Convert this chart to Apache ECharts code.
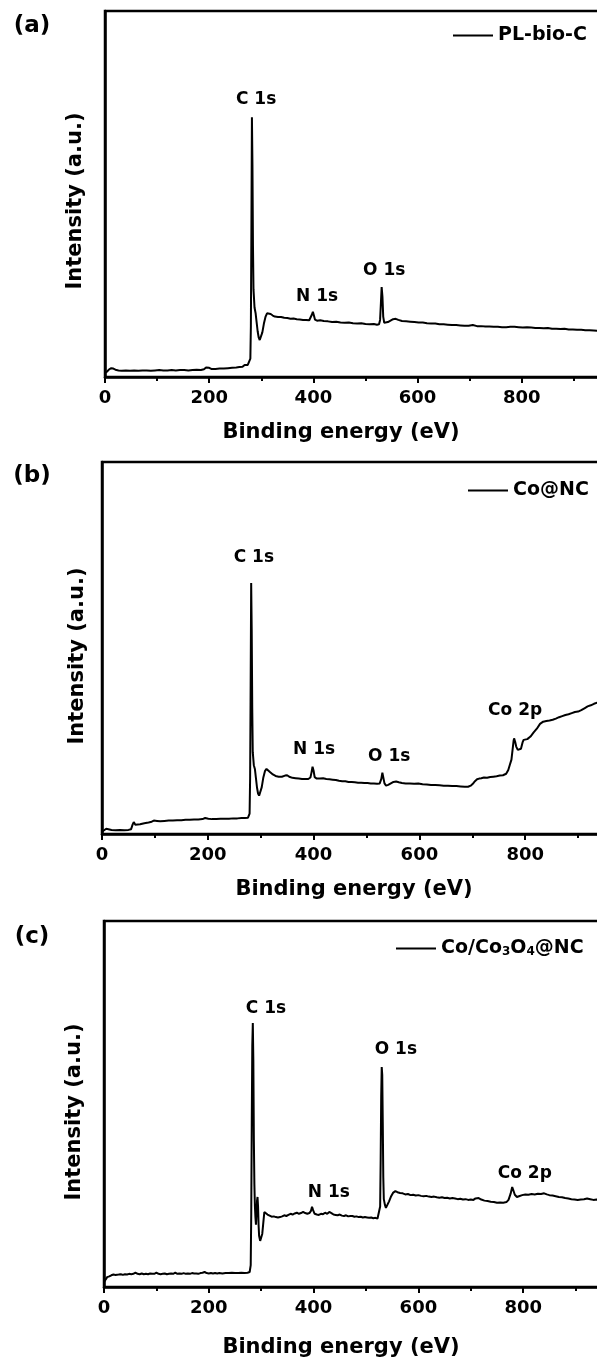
<!DOCTYPE html>
<html>
<head>
<meta charset="utf-8">
<style>
html,body{margin:0;padding:0;background:#fff;}
#chart{width:597px;height:1367px;}
</style>
<script src="https://cdn.jsdelivr.net/npm/echarts@6/dist/echarts.min.js"></script>
</head>
<body>
<div id="chart"></div>
<script>
// ---------- data ----------
const xTicks = [0, 200, 400, 600, 800, 1000];
const panelLabels = ['(a)', '(b)', '(c)'];
const seriesNames = ['PL-bio-C', 'Co@NC', 'Co/Co3O4@NC'];
const xTitle = 'Binding energy (eV)';
const yTitle = 'Intensity (a.u.)';

// [binding energy (eV), intensity (a.u., 0-100 scale)]
const specA = [[0,1.2],[4,1.5],[8,2.1],[12,2.4],[16,2.3],[20,2.0],[26,1.8],[32,1.7],[40,1.8],[48,1.7],[56,1.8],[64,1.7],[72,1.8],[80,1.8],[88,1.7],[96,1.8],[104,1.9],[112,1.8],[120,1.8],[128,1.9],[136,1.8],[144,1.9],[152,1.9],[160,1.8],[168,1.9],[176,2.0],[184,1.9],[190,2.1],[194,2.6],[197,3.0],[200,2.5],[204,2.2],[212,2.2],[220,2.3],[228,2.3],[236,2.4],[244,2.5],[252,2.6],[258,2.7],[264,2.8],[268,3.3],[271,3.8],[274,3.3],[277,3.4],[279,5],[280,14],[281,40],[282,71],[283,58],[284,36],[285,24],[287,19],[289,17.5],[291,15],[293,12.5],[295,10.8],[297,10.1],[299,10.4],[302,12.2],[305,14.6],[308,16.4],[311,17.4],[314,17.6],[318,17.2],[322,16.8],[326,16.5],[332,16.4],[338,16.4],[344,16.2],[350,16.1],[356,15.9],[362,16.0],[368,15.8],[374,15.7],[380,15.6],[386,15.6],[392,15.5],[395,15.8],[397,17.0],[399,17.8],[401,16.8],[403,15.7],[407,15.4],[413,15.5],[420,15.3],[428,15.2],[436,15.0],[444,15.1],[452,14.9],[460,14.8],[468,14.9],[476,14.7],[484,14.6],[492,14.7],[500,14.5],[508,14.4],[516,14.5],[522,14.3],[526,14.4],[528,15.6],[529.5,20],[531,24.6],[532.5,22],[534,16.5],[536,14.8],[539,14.6],[543,15.0],[548,15.4],[553,15.8],[558,15.9],[563,15.6],[570,15.3],[578,15.2],[586,15.1],[594,15.0],[602,14.9],[610,14.9],[618,14.7],[626,14.6],[634,14.6],[642,14.4],[650,14.4],[658,14.3],[666,14.2],[674,14.2],[682,14.1],[690,14.0],[698,14.0],[706,14.2],[714,13.9],[722,13.9],[730,13.8],[738,13.8],[746,13.7],[754,13.7],[762,13.6],[770,13.6],[778,13.7],[786,13.7],[794,13.6],[802,13.5],[810,13.6],[818,13.5],[826,13.4],[834,13.4],[842,13.3],[850,13.4],[858,13.2],[866,13.2],[874,13.1],[882,13.2],[890,13.0],[898,13.0],[906,12.9],[914,12.9],[922,12.8],[930,12.8],[938,12.7],[946,12.6],[954,12.6]];

const specB = [[0,0.6],[4,1.0],[8,1.4],[12,1.3],[18,1.1],[26,1.0],[34,1.1],[42,1.0],[50,1.1],[55,1.3],[58,2.6],[60,3.2],[63,2.5],[66,2.4],[72,2.6],[80,2.9],[88,3.1],[94,3.3],[98,3.6],[101,4.0],[104,3.5],[110,3.4],[118,3.5],[126,3.6],[134,3.6],[142,3.7],[150,3.7],[158,3.8],[166,3.8],[174,3.9],[182,3.9],[190,4.0],[195,4.3],[198,4.6],[201,4.1],[208,4.0],[216,4.0],[224,4.1],[232,4.1],[240,4.1],[248,4.2],[256,4.2],[264,4.3],[270,4.3],[276,4.4],[279,5.5],[280,15],[281,40],[282,67.5],[283,55],[284,34],[285,22],[287,18.5],[289,17.5],[291,15.0],[293,12.5],[295,10.9],[297,10.3],[299,10.6],[302,12.6],[305,15.2],[308,16.9],[311,17.5],[314,17.2],[318,16.6],[323,16.0],[328,15.6],[334,15.4],[340,15.4],[346,15.7],[350,15.8],[354,15.4],[360,15.1],[366,15.0],[372,14.9],[378,14.8],[384,14.8],[390,14.8],[394,15.2],[396,16.5],[398,18.1],[400,17.0],[402,15.3],[406,14.9],[412,14.9],[418,15.0],[424,14.8],[430,14.7],[436,14.6],[442,14.5],[448,14.3],[454,14.2],[460,14.2],[466,14.0],[472,14.0],[478,13.9],[484,13.8],[490,13.8],[496,13.7],[502,13.7],[508,13.6],[514,13.6],[520,13.5],[525,13.6],[528,14.8],[530,16.5],[532,16.0],[534,13.6],[537,13.0],[541,13.2],[546,13.6],[551,14.0],[556,14.1],[561,13.9],[567,13.7],[574,13.6],[582,13.6],[590,13.5],[598,13.6],[606,13.4],[614,13.3],[622,13.2],[630,13.2],[638,13.1],[646,13.0],[654,13.0],[662,12.9],[670,12.9],[678,12.8],[686,12.7],[692,12.7],[697,13.0],[701,13.5],[705,14.2],[709,14.7],[713,14.9],[717,15.0],[722,15.2],[728,15.1],[734,15.3],[740,15.4],[746,15.5],[752,15.7],[758,15.8],[764,16.2],[768,17.2],[771,18.6],[774,20.0],[776,22.5],[778,25.0],[779,25.7],[781,24.8],[783,23.5],[786,22.6],[789,22.1],[792,22.9],[795,24.6],[797,25.3],[800,25.0],[804,25.5],[810,26.2],[816,27.3],[822,28.3],[828,29.6],[834,30.2],[840,30.4],[846,30.5],[852,30.7],[858,31.0],[864,31.4],[870,31.7],[876,32.0],[882,32.2],[888,32.5],[894,32.8],[900,32.9],[906,33.3],[912,33.8],[918,34.3],[924,34.6],[930,35.0],[936,35.3],[942,35.5],[948,35.6]];

const specC = [[0,1.4],[3,2.0],[6,2.7],[10,2.9],[14,3.2],[18,3.4],[22,3.3],[25,3.8],[28,3.4],[32,3.5],[36,3.3],[40,3.5],[44,3.4],[48,3.6],[52,3.5],[56,3.6],[60,3.9],[64,3.6],[68,3.5],[72,3.7],[76,3.5],[80,3.6],[84,3.5],[88,3.7],[92,3.6],[96,3.6],[100,3.9],[104,3.6],[108,3.5],[112,3.6],[116,3.7],[120,3.5],[124,3.6],[128,3.7],[132,3.6],[136,3.9],[140,3.6],[144,3.7],[148,3.6],[152,3.8],[156,3.6],[160,3.7],[164,3.6],[168,3.8],[172,3.7],[176,3.7],[180,3.6],[184,3.8],[188,3.9],[192,4.1],[196,3.8],[200,3.7],[204,3.8],[208,3.7],[212,3.8],[216,3.7],[220,3.8],[226,3.7],[232,3.8],[238,3.8],[244,3.9],[250,3.8],[256,3.8],[262,3.9],[268,3.8],[274,3.9],[278,4.1],[280,6],[281,20],[282,45],[283,66],[284,72.1],[285,62],[286,40],[287,28],[288,22],[289,19],[290,17],[291,20],[292,23.5],[293,24.6],[294,22],[295,17],[296,14],[298,12.6],[300,12.3],[302,14.5],[304,17.5],[306,20.5],[309,20.2],[312,19.8],[316,19.5],[320,19.2],[324,19.3],[328,19.1],[332,19.0],[336,19.1],[340,19.3],[344,19.6],[348,19.4],[352,19.7],[356,20.0],[360,19.8],[364,20.1],[368,20.3],[372,20.0],[376,20.2],[380,20.5],[384,20.2],[388,20.0],[392,20.2],[395,20.8],[397,21.9],[399,21.0],[402,20.0],[406,19.8],[410,19.7],[414,20.0],[418,19.9],[422,20.3],[426,20.0],[430,20.5],[434,20.2],[438,19.8],[442,19.7],[446,19.6],[450,19.8],[454,19.5],[458,19.4],[462,19.6],[466,19.3],[470,19.4],[474,19.4],[478,19.2],[482,19.3],[486,19.1],[490,19.2],[494,19.0],[498,19.1],[502,19.0],[506,18.9],[510,19.0],[514,18.8],[518,18.9],[522,18.7],[525,18.9],[527,22],[528,35],[529,52],[530,60.1],[531,58],[532,45],[533,30],[534,24],[536,22.5],[538,21.6],[541,22.0],[544,23.4],[548,24.8],[552,25.8],[556,26.2],[560,25.9],[565,25.7],[570,25.6],[575,25.3],[580,25.4],[585,25.1],[590,25.2],[595,25.0],[600,25.1],[605,24.9],[610,24.8],[615,24.9],[620,24.7],[625,24.6],[630,24.7],[635,24.5],[640,24.4],[645,24.5],[650,24.3],[655,24.4],[660,24.2],[665,24.3],[670,24.2],[675,24.0],[680,24.1],[685,23.9],[690,24.0],[695,23.8],[700,23.9],[705,23.8],[709,24.2],[712,24.6],[715,24.3],[720,23.9],[726,23.6],[732,23.5],[738,23.3],[744,23.2],[750,23.0],[756,23.1],[762,23.0],[768,23.2],[772,23.8],[776,25.5],[779,27.3],[781,26.5],[784,25.2],[788,24.6],[792,24.8],[798,25.1],[804,25.3],[810,25.2],[816,25.4],[822,25.3],[828,25.5],[834,25.4],[840,25.6],[845,25.3],[850,25.1],[856,25.0],[862,24.8],[868,24.6],[874,24.5],[880,24.3],[886,24.2],[892,24.0],[898,23.9],[904,23.8],[910,23.9],[916,24.0],[922,24.2],[928,24.0],[934,23.8],[940,23.9],[946,23.7],[952,23.8]];

// peak annotations: [label, energy, intensity]
const peaksA = [['C 1s', 290, 75.7], ['N 1s', 407, 21.9], ['O 1s', 536, 29.2]];
const peaksB = [['C 1s', 287, 74.2], ['N 1s', 401, 22.6], ['O 1s', 543, 20.7], ['Co 2p', 781, 33.3]];
const peaksC = [['C 1s', 309, 76.2], ['N 1s', 429, 25.7], ['O 1s', 557, 64.8], ['Co 2p', 803, 31.1]];

// ---------- layout ----------
const FONT = '"DejaVu Sans", sans-serif';
const panels = [
  {spec: specA, peaks: peaksA, grid: {left: 105, top: 11, width: 521, height: 366},
   legend: {left: 453, top: 26}, label: {x: 32, y: 26}, xName: {x: 341, y: 433}, yName: {x: 76, y: 201}},
  {spec: specB, peaks: peaksB, grid: {left: 102, top: 462, width: 529, height: 372},
   legend: {left: 468, top: 481}, label: {x: 32, y: 476}, xName: {x: 354, y: 890}, yName: {x: 78, y: 656}},
  {spec: specC, peaks: peaksC, grid: {left: 104, top: 921, width: 524, height: 366},
   legend: {left: 396, top: 939}, label: {x: 32, y: 937}, xName: {x: 341, y: 1348}, yName: {x: 75, y: 1112}}
];

const chart = echarts.init(document.getElementById('chart'), null, {renderer: 'canvas'});

const grids = [], xAxes = [], yAxes = [], series = [], legends = [], graphics = [];
panels.forEach((p, i) => {
  grids.push(Object.assign({show: true, borderColor: '#000', borderWidth: 2.5, backgroundColor: 'transparent',
    containLabel: false, outerBoundsMode: 'none'}, p.grid));
  xAxes.push({
    type: 'value', gridIndex: i, min: xTicks[0], max: xTicks[xTicks.length - 1], interval: 200,
    axisLine: {show: true, onZero: false, lineStyle: {color: '#000', width: 2.5}},
    axisTick: {show: true, length: 6, lineStyle: {color: '#000', width: 2}},
    minorTick: {show: true, splitNumber: 2, length: 4, lineStyle: {color: '#000', width: 2}},
    splitLine: {show: false},
    axisLabel: {color: '#000', fontFamily: FONT, fontWeight: 'bold', fontSize: 18, margin: 12,
      formatter: v => String(v)}
  });
  yAxes.push({
    type: 'value', gridIndex: i, min: 0, max: 100,
    axisLine: {show: true, lineStyle: {color: '#000', width: 2.5}},
    axisTick: {show: false}, axisLabel: {show: false}, splitLine: {show: false}
  });
  series.push({
    name: seriesNames[i], type: 'line', xAxisIndex: i, yAxisIndex: i,
    data: p.spec, showSymbol: false, symbol: 'none', smooth: false,
    lineStyle: {color: '#000', width: 2}, itemStyle: {color: '#000'},
    animation: false
  });
  series.push({
    type: 'scatter', xAxisIndex: i, yAxisIndex: i, symbolSize: 0, silent: true,
    itemStyle: {color: '#000', opacity: 1},
    data: p.peaks.map(d => ({name: d[0], value: [d[1], d[2]]})),
    label: {show: true, position: [0, 0], align: 'center', verticalAlign: 'middle',
            formatter: '{b}', color: '#000', opacity: 1, textBorderWidth: 0,
            fontFamily: FONT, fontWeight: 'bold', fontSize: 17},
    animation: false
  });
  legends.push({
    data: [seriesNames[i]], left: p.legend.left, top: p.legend.top, orient: 'horizontal',
    icon: 'rect', itemWidth: 40, itemHeight: 2, selectedMode: false, padding: 0,
    itemStyle: {color: '#000', borderWidth: 0},
    textStyle: {color: '#000', fontFamily: FONT, fontWeight: 'bold', fontSize: 19,
      rich: {n: {fontFamily: FONT, fontWeight: 'bold', fontSize: 19, color: '#000'},
             s: {fontFamily: FONT, fontWeight: 'bold', fontSize: 12, color: '#000', verticalAlign: 'bottom', padding: [6, 0, 0, 0]}}},
    formatter: function (name) {
      if (name.indexOf('Co3O4') >= 0) return '{n|Co/Co}{s|3}{n|O}{s|4}{n|@NC}';
      return name;
    }
  });
  graphics.push({type: 'text', x: p.label.x, y: p.label.y,
    style: {text: panelLabels[i], font: 'bold 23px ' + FONT, fill: '#000', textAlign: 'center', textVerticalAlign: 'middle'}});
  graphics.push({type: 'text', x: p.xName.x, y: p.xName.y,
    style: {text: xTitle, font: 'bold 21px ' + FONT, fill: '#000', textAlign: 'center', textVerticalAlign: 'middle'}});
  graphics.push({type: 'text', x: p.yName.x, y: p.yName.y, rotation: Math.PI / 2,
    style: {text: yTitle, font: 'bold 21px ' + FONT, fill: '#000', textAlign: 'center', textVerticalAlign: 'middle'}});
});

chart.setOption({
  backgroundColor: '#fff',
  animation: false,
  grid: grids, xAxis: xAxes, yAxis: yAxes, series: series, legend: legends, graphic: graphics
});
</script>
</body>
</html>
